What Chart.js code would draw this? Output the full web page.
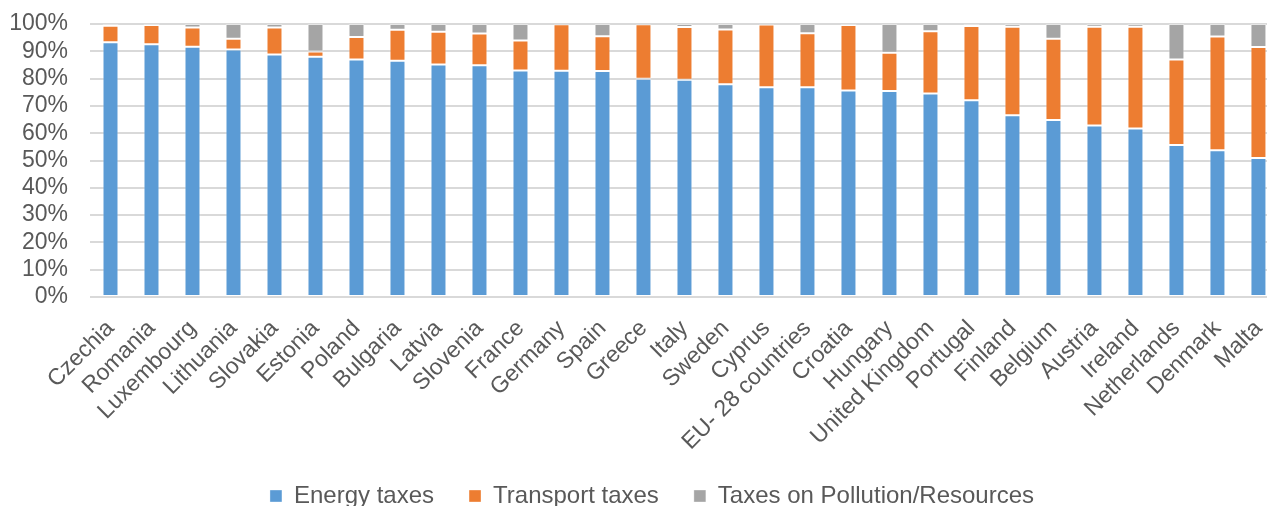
<!DOCTYPE html>
<html>
<head>
<meta charset="utf-8">
<script src="https://cdn.jsdelivr.net/npm/chart.js@4/dist/chart.umd.min.js"></script>
<style>
    html, body { margin: 0; padding: 0; background: #fff; overflow: hidden; }
    #wrap { width: 1288px; height: 526px; }
</style>
</head>
<body>
<div id="wrap"><canvas id="taxChart"></canvas></div>
<script>
// Pays (ordre décroissant de la part énergie)
const countries = [
    'Czechia', 'Romania', 'Luxembourg', 'Lithuania', 'Slovakia', 'Estonia', 'Poland',
    'Bulgaria', 'Latvia', 'Slovenia', 'France', 'Germany', 'Spain', 'Greece', 'Italy',
    'Sweden', 'Cyprus', 'EU- 28 countries', 'Croatia', 'Hungary', 'United Kingdom',
    'Portugal', 'Finland', 'Belgium', 'Austria', 'Ireland', 'Netherlands', 'Denmark', 'Malta'
];

// Parts en % des taxes environnementales
const energyTaxes = [
    93.3, 92.6, 91.7, 90.7, 88.8, 88.0, 87.0, 86.5, 85.2, 84.9, 83.0, 82.9, 82.8, 79.9, 79.6,
    77.9, 76.8, 76.8, 75.6, 75.5, 74.5, 72.1, 66.6, 64.8, 62.8, 61.7, 55.7, 53.8, 50.9
];
const transportTaxes = [
    6.1, 7.0, 7.0, 3.9, 9.9, 1.9, 8.2, 11.4, 12.0, 11.6, 11.0, 17.0, 12.7, 20.0, 19.3,
    20.1, 23.0, 19.8, 24.0, 14.0, 22.8, 27.2, 32.4, 29.8, 36.2, 37.3, 31.3, 41.6, 40.7
];
const pollutionTaxes = [
    0.6, 0.4, 1.3, 5.4, 1.3, 10.1, 4.8, 2.1, 2.8, 3.5, 6.0, 0.1, 4.5, 0.1, 1.1,
    2.0, 0.2, 3.4, 0.4, 10.5, 2.7, 0.7, 1.0, 5.4, 1.0, 1.0, 13.0, 4.6, 8.4
];

const yTicks = [0, 10, 20, 30, 40, 50, 60, 70, 80, 90, 100];

const textColor = '#595959';
const gridColor = '#d9d9d9';
const fontFamily = 'Liberation Sans, Arial, sans-serif';

function makeDataset(label, data, color) {
    return {
        label: label,
        data: data,
        backgroundColor: color,
        borderColor: 'rgba(255, 255, 255, 0.35)',
        borderWidth: 1,
        borderSkipped: false,
        barPercentage: 0.39,
        categoryPercentage: 1
    };
}

// Recentre la légende sous la zone de tracé et la remonte un peu
const legendShift = {
    id: 'legendShift',
    afterLayout(chart) {
        const lg = chart.legend;
        if (!lg) return;
        lg.left += 9;
        lg.right += 9;
        lg.top -= 8;
        lg.bottom -= 8;
    }
};

const ctx = document.getElementById('taxChart').getContext('2d');
new Chart(ctx, {
    type: 'bar',
    data: {
        labels: countries,
        datasets: [
            makeDataset('Energy taxes', energyTaxes, '#5b9bd5'),
            makeDataset('Transport taxes', transportTaxes, '#ed7d31'),
            makeDataset('Taxes on Pollution/Resources', pollutionTaxes, '#a5a5a5')
        ]
    },
    options: {
        responsive: true,
        maintainAspectRatio: false,
        animation: false,
        layout: {
            padding: { top: 0, left: 0, right: 2, bottom: 0 }
        },
        plugins: {
            tooltip: { enabled: false },
            legend: {
                position: 'bottom',
                labels: {
                    color: textColor,
                    font: { family: fontFamily, size: 24 },
                    boxWidth: 12,
                    boxHeight: 12,
                    padding: 35
                }
            }
        },
        scales: {
            x: {
                stacked: true,
                grid: { display: false },
                border: { display: false },
                ticks: {
                    color: textColor,
                    font: { family: fontFamily, size: 23 },
                    minRotation: 45,
                    maxRotation: 45,
                    autoSkip: false,
                    padding: 10
                },
                afterFit: (scale) => { scale.height = 160; }
            },
            y: {
                stacked: true,
                min: 0,
                max: 100,
                afterBuildTicks: (scale) => {
                    scale.ticks = yTicks.map(v => ({ value: v }));
                },
                grid: {
                    color: gridColor,
                    lineWidth: 2,
                    drawTicks: false
                },
                border: { display: false },
                ticks: {
                    color: textColor,
                    font: { family: fontFamily, size: 23 },
                    padding: 22,
                    autoSkip: false,
                    callback: (value) => value + '%'
                },
                afterFit: (scale) => {
                    scale.width = 90;
                    scale.paddingTop = 24;
                }
            }
        }
    },
    plugins: [legendShift]
});
</script>
</body>
</html>
